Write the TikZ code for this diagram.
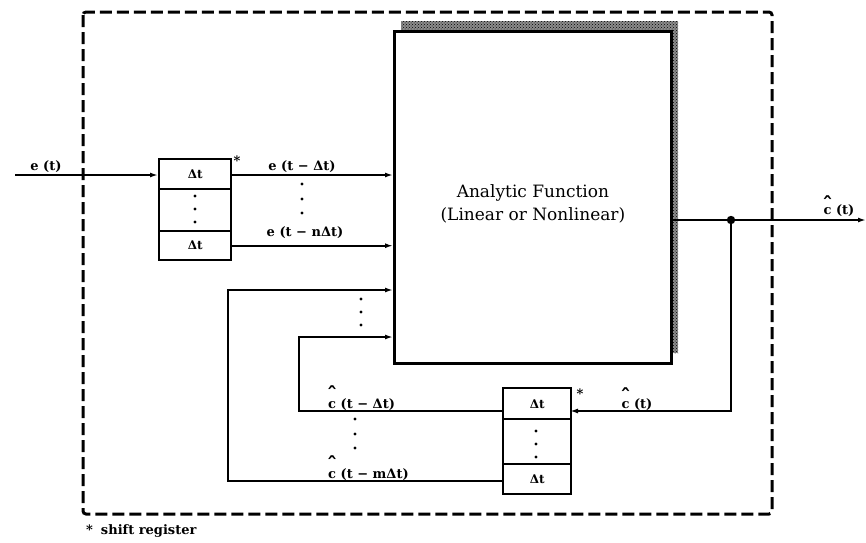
\documentclass[tikz,border=0pt]{standalone}
\usepackage{fontspec}
\setmainfont{DejaVu Serif}
\usetikzlibrary{arrows.meta,patterns}
\newcommand{\chat}[1][6pt]{\rlap{\hbox to 0.6em{\hss\raisebox{#1}{\fontsize{21}{21}\selectfont ˆ}\hss}}c}
\begin{document}
\begin{tikzpicture}[x=1pt,y=-1pt,
  conn/.style={line width=2pt},
  arr/.style={conn,-{Latex[length=8pt,width=5pt]}},
  lbl/.style={font=\bfseries\fontsize{13}{15}\selectfont,inner sep=0pt},
  cell/.style={draw,line width=2.4pt,inner sep=0pt,anchor=north west,font=\bfseries\fontsize{12}{14}\selectfont},
]
\useasboundingbox (0,0) rectangle (866,542);
% system boundary
\draw[line width=3pt,dash pattern=on 12pt off 5pt,rounded corners=3pt] (83,12) rectangle (772,514);
% main block with stippled shadow
\fill[black!45] (401,21) rectangle (678,353);
\fill[pattern=crosshatch dots,pattern color=black] (401,21) rectangle (678,353);
\node[draw,line width=2.8pt,fill=white,minimum width=277pt,minimum height=332pt,anchor=north west,inner sep=0pt] (fn) at (393,30) {};
\node[align=center,font=\fontsize{17}{23}\selectfont,inner sep=0pt] (fntext) at ([yshift=-6pt]fn.center) {Analytic Function\\(Linear or Nonlinear)};
% shift register 1
\node[cell,minimum width=72pt,minimum height=30pt] (r1a) at (158,158) {Δt};
\node[cell,minimum width=72pt,minimum height=42pt] (r1b) at (158,188) {};
\node[cell,minimum width=72pt,minimum height=29pt] (r1c) at (158,230) {Δt};
\foreach \yy in {196,209,222} \fill (195,\yy) circle (1.7);
\node[lbl] (s1) at (237,161) {*};
% shift register 2
\node[cell,minimum width=68pt,minimum height=31pt] (r2a) at (502,387) {\raisebox{-6pt}{Δt}};
\node[cell,minimum width=68pt,minimum height=45pt] (r2b) at (502,418) {};
\node[cell,minimum width=68pt,minimum height=30pt] (r2c) at (502,463) {Δt};
\foreach \yy in {431,444,457} \fill (536,\yy) circle (1.7);
\node[lbl] (s2) at (580,394) {*};
% coordinates
\coordinate (in) at (15,175);
\coordinate (out) at (866,220);
\coordinate (j) at (731,220);
\coordinate (r2in) at (570,411);
\coordinate (r2out1) at (502,411);
\coordinate (r2out2) at (502,481);
\coordinate (fb1a) at (228,481);
\coordinate (fb1b) at (228,290);
\coordinate (fb2a) at (299,411);
\coordinate (fb2b) at (299,337);
% input
\draw[arr] (in) -- (r1a.west |- in);
\node[lbl] (et) at (46,167) {e (t)};
% register 1 outputs
\draw[arr] (r1a.east |- in) -- (in -| fn.west);
\draw[arr] (r1c.east) -- (r1c.east -| fn.west);
\node[lbl] (e1) at (302,167) {e (t − Δt)};
\node[lbl] (e2) at (305,233) {e (t − nΔt)};
\foreach \yy in {184,199,213} \fill (302,\yy) circle (1.7);
% output
\draw[arr] (out -| fn.east) -- (out);
\fill (j) circle (4.2);
\node[lbl] (co) at (839,206) {\chat[2pt] (t)};
\draw[arr] (j) |- (r2in);
\node[lbl] (ci) at (637,399) {\chat[4pt] (t)};
% feedback
\draw[arr] (r2out2) -- (fb1a) -- (fb1b) -- (fb1b -| fn.west);
\draw[arr] (r2out1) -- (fb2a) -- (fb2b) -- (fb2b -| fn.west);
\foreach \yy in {299,312,325} \fill (361,\yy) circle (1.7);
\node[lbl,anchor=west] (c1) at (328,398) {\chat[6pt] (t − Δt)};
\node[lbl,anchor=west] (c2) at (328,468) {\chat[6pt] (t − mΔt)};
\foreach \yy in {419,434,448} \fill (355,\yy) circle (1.7);
% footnote
\node[lbl,anchor=west] (fnote) at (86,531) {*\hspace{8pt}shift register};
\end{tikzpicture}
\end{document}
